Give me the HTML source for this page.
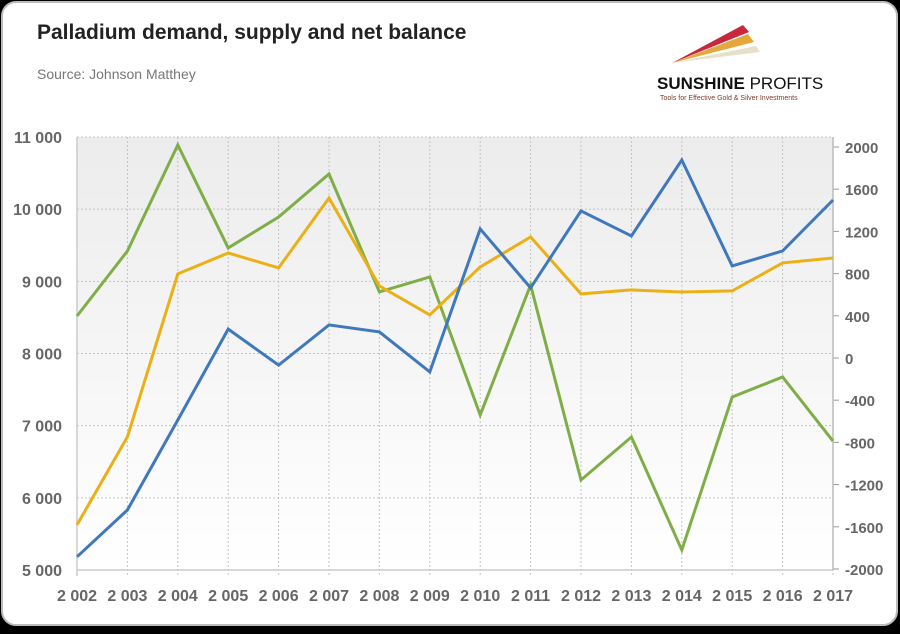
<!DOCTYPE html>
<html><head><meta charset="utf-8"><style>
body{margin:0;background:#000;width:900px;height:629px;overflow:hidden;font-family:"Liberation Sans",sans-serif}
</style></head><body>
<svg width="900" height="629">
<defs><linearGradient id="bg" x1="0" y1="0" x2="0" y2="1"><stop offset="0" stop-color="#ececec"/><stop offset="1" stop-color="#ffffff"/></linearGradient>
<linearGradient id="fade" x1="0" x2="1"><stop offset="0" stop-color="#fff" stop-opacity="0"/><stop offset="1" stop-color="#fff"/></linearGradient></defs>
<rect x="2" y="2" width="895" height="623" rx="14" fill="#fff" stroke="#bbb" stroke-width="2"/>
<text x="37" y="39" font-size="21" font-weight="bold" fill="#222">Palladium demand, supply and net balance</text>
<text x="37" y="79" font-size="14" fill="#777">Source: Johnson Matthey</text>
<g>
<polygon points="672,63 743,25 749,32" fill="#c8283a"/>
<polygon points="672,63 748,34 754,42" fill="#e3a73c"/>
<polygon points="672,63 756,46 760,52" fill="#e7e0c8"/>
<text x="657" y="89" font-size="17" font-weight="bold" fill="#111">SUNSHINE <tspan font-weight="normal">PROFITS</tspan></text>
<text x="660" y="100" font-size="7" fill="#7a3b2e">Tools for Effective Gold &amp; Silver Investments</text>
</g>
<rect x="77" y="137" width="756" height="433" fill="url(#bg)"/>
<g id="grid"></g><g id="axes"></g><g id="lines"></g>
</svg>
<script>
const years=[2002,2003,2004,2005,2006,2007,2008,2009,2010,2011,2012,2013,2014,2015,2016,2017];
const demand=[5183,5831,7078,8338,7839,8396,8299,7745,9726,8909,9976,9629,10681,9213,9421,10127];
const supply=[5626,6845,9103,9393,9186,10155,8936,8535,9199,9615,8826,8881,8853,8867,9255,9324];
const netBalance=[398,1014,2019,1043,1336,1744,626,768,-540,692,-1156,-749,-1820,-370,-180,-787];
const leftTicks=[5000,6000,7000,8000,9000,10000,11000];
const rightTicks=[-2000,-1600,-1200,-800,-400,0,400,800,1200,1600,2000];
const NS="http://www.w3.org/2000/svg";
const x=i=>77+i*(756/15);
const yL=v=>137+(11000-v)*433/6000;
const yR=v=>358-v*42.2/400;
function mk(t,a,p){const e=document.createElementNS(NS,t);for(const k in a)e.setAttribute(k,a[k]);p.appendChild(e);return e;}
const grid=document.getElementById('grid'),axes=document.getElementById('axes'),lines=document.getElementById('lines');
const fmt=v=>{const s=String(v);return s.length>4?s.slice(0,-3)+' '+s.slice(-3):s.length==4?s[0]+' '+s.slice(1):s;};
leftTicks.forEach(v=>{
 const g=mk('line',{x1:77,x2:833,y1:yL(v),y2:yL(v),stroke:'#c4c4c4','stroke-dasharray':'2,2'},grid);
 
 
 const t=mk('text',{x:62,y:yL(v)+6,'text-anchor':'end','font-size':16,'font-weight':'bold',fill:'#666'},axes);
 t.textContent=fmt(v);
 
 
});
rightTicks.forEach(v=>{
 mk('line',{x1:833,x2:839,y1:yR(v),y2:yR(v),stroke:'#999'},axes);
 const t=mk('text',{x:845,y:yR(v)+6,'font-size':15,'font-weight':'bold',fill:'#666'},axes);
 t.textContent=String(v);
 
 
});
years.forEach((yr,i)=>{
 const g=mk('line',{x1:x(i),x2:x(i),y1:137,y2:576,stroke:'#c4c4c4','stroke-dasharray':'2,2'},grid);
 
 
 const t=mk('text',{x:x(i),y:601,'text-anchor':'middle','font-size':16,'font-weight':'bold',fill:'#666'},axes);
 t.textContent=fmt(yr);
 
 
});
mk('line',{x1:77,x2:77,y1:137,y2:576,stroke:'#ccc','stroke-width':1.5},axes);
mk('line',{x1:77,x2:833,y1:570,y2:570,stroke:'#ccc','stroke-width':1.5},axes);
mk('line',{x1:833,x2:833,y1:137,y2:570,stroke:'#bbb','stroke-width':1.5},axes);
function series(vals,fy,col,name){
 const p=mk('polyline',{points:vals.map((v,i)=>x(i)+','+fy(v)).join(' '),fill:'none',stroke:col,'stroke-width':3,'stroke-linejoin':'miter'},lines);
 
 
}
series(netBalance,yR,'#7fae48','net-balance-line');
series(supply,yL,'#ecb017','supply-line');
series(demand,yL,'#3f78bd','demand-line');
</script>
</body></html>
